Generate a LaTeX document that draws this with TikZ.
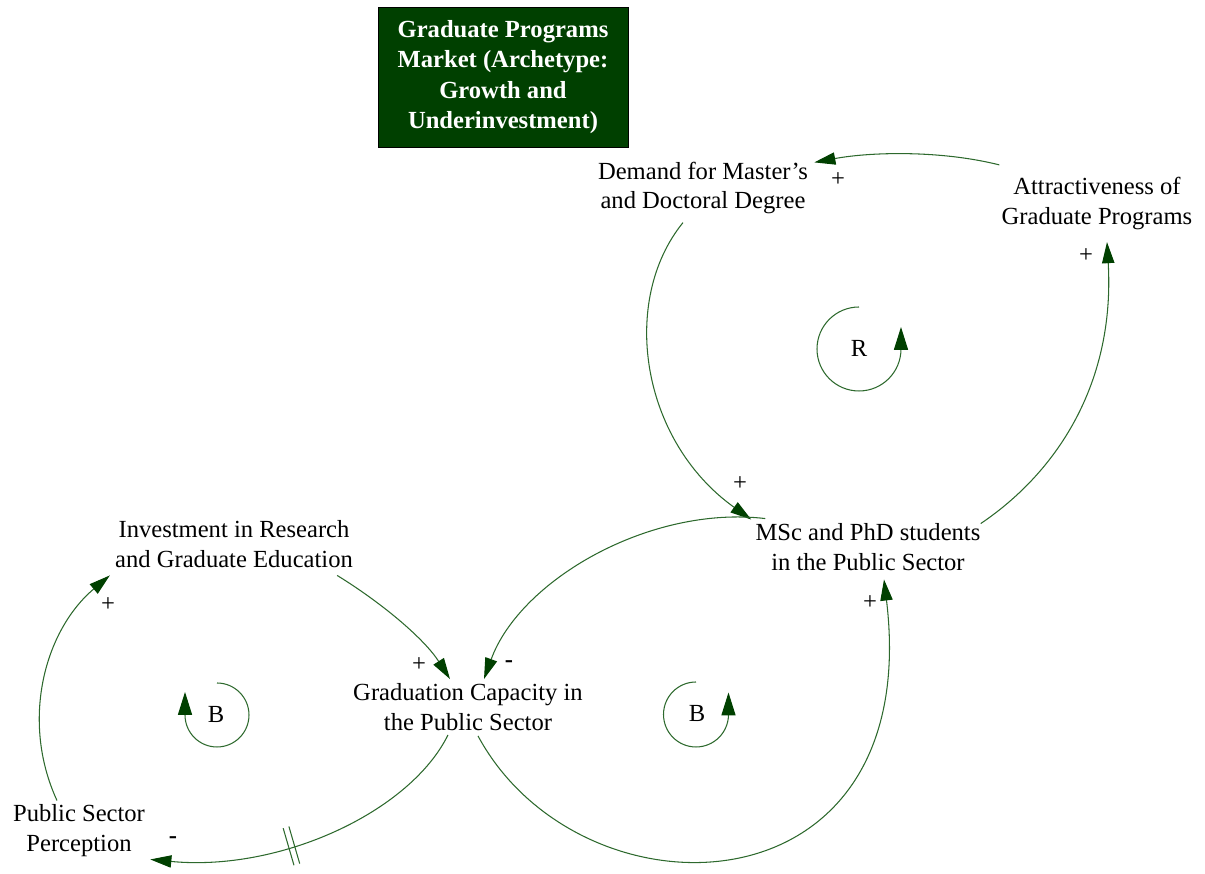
\documentclass[tikz,border=0pt]{standalone}
\usepackage{fontspec}
\setmainfont{Liberation Serif}
\usetikzlibrary{arrows.meta,decorations.markings}
\definecolor{darkgreen}{RGB}{0,64,0}
\definecolor{linkgreen}{RGB}{45,105,45}
\tikzstyle{varnode} = [align=center, inner sep=0pt, font=\fontsize{14}{17}\selectfont]
\tikzstyle{titlebox} = [draw=black, fill=darkgreen, text=white, align=center, minimum width=5cm, minimum height=2.8cm, font=\fontsize{14}{17.4}\selectfont\bfseries]
\tikzstyle{causallink} = [linkgreen, line width=0.6pt, -{Triangle[length=12pt,width=7pt,color=darkgreen]}]
\tikzstyle{loopsym} = [linkgreen, line width=0.6pt, -{Triangle[length=13pt,width=8pt,color=darkgreen]}]
\tikzstyle{polarity} = [inner sep=0pt, font=\fontsize{14}{17}\selectfont]
\tikzstyle{delaymark} = [postaction={decorate}, decoration={markings, mark=at position 0.58 with {
    \draw[linkgreen, line width=0.6pt, -] (-1.7pt,-11pt) -- (-1.7pt,11pt);
    \draw[linkgreen, line width=0.6pt, -] (1.7pt,-11pt) -- (1.7pt,11pt);}}]

\begin{document}
\begin{tikzpicture}[x=0.02cm, y=-0.02cm]
    \useasboundingbox (0,0) rectangle (1205,874);
    % title
    \node[titlebox] (title) at (503,77) {Graduate Programs\\Market (Archetype:\\Growth and\\Underinvestment)};
    % variables
    \node[varnode] (demand) at (703,188) {Demand for Master's\\and Doctoral Degree};
    \node[varnode] (attr) at (1097,203.5) {Attractiveness of\\Graduate Programs};
    \node[varnode] (msc) at (868,547.5) {MSc and PhD students\\in the Public Sector};
    \node[varnode] (invest) at (234,544.5) {Investment in Research\\and Graduate Education};
    \node[varnode] (graduation) at (468,707) {Graduation Capacity in\\the Public Sector};
    \node[varnode] (percep) at (79,831) {Public Sector\\Perception};
    % loops
    \node[varnode] (rloop) at (859,348) {R};
    \node[varnode] (bleft) at (216,714) {B};
    \node[varnode] (bmid) at (697,713) {B};
    \draw[loopsym] ([shift={(0,-41)}]rloop.center) arc[start angle=90, end angle=360, radius=0.84cm] -- ++(0,-22);
    \draw[loopsym] ([shift={(1,-31)}]bleft.center) arc[start angle=90, end angle=-180, radius=0.64cm] -- ++(0,-23);
    \draw[loopsym] ([shift={(-1,-31)}]bmid.center) arc[start angle=90, end angle=360, radius=0.65cm] -- ++(0,-22);
    % links
    \draw[causallink] ([shift={(-2,-12)}]attr.north west) .. controls (940,150) and (870,152) .. ([shift={(6,1)}]demand.north east);
    \draw[causallink] ([shift={(-20,8)}]demand.south) .. controls (620,300) and (640,440) .. ([shift={(-4,-4)}]msc.north west);
    \draw[causallink] (msc.north east) .. controls (1060,470) and (1115,380) .. ([shift={(10,12)}]attr.south);
    \draw[causallink] ([shift={(10,-5)}]msc.north west) .. controls (650,505) and (520,580) .. ([shift={(16,-4)}]graduation.north);
    \draw[causallink] ([shift={(-16,7)}]invest.south east) .. controls (385,605) and (425,640) .. ([shift={(-18,-4)}]graduation.north);
    \draw[causallink] ([shift={(10,5)}]graduation.south) .. controls (580,925) and (925,920) .. ([shift={(16,8)}]msc.south);
    \draw[causallink, delaymark] ([shift={(-20,4)}]graduation.south) .. controls (410,812) and (280,872) .. ([shift={(5,2)}]percep.south east);
    \draw[causallink] ([shift={(-22,-4)}]percep.north) .. controls (20,720) and (45,630) .. ([shift={(-5,7)}]invest.south west);
    % polarities
    \node[polarity] (s1) at (838,180) {+};
    \node[polarity] (s2) at (740,484) {+};
    \node[polarity] (s3) at (1086,256) {+};
    \node[polarity] (s4) at (509,664) {\textbf{-}};
    \node[polarity] (s5) at (419,665) {+};
    \node[polarity] (s6) at (870,603) {+};
    \node[polarity] (s7) at (173,840) {\textbf{-}};
    \node[polarity] (s8) at (108,605) {+};
\end{tikzpicture}
\end{document}
